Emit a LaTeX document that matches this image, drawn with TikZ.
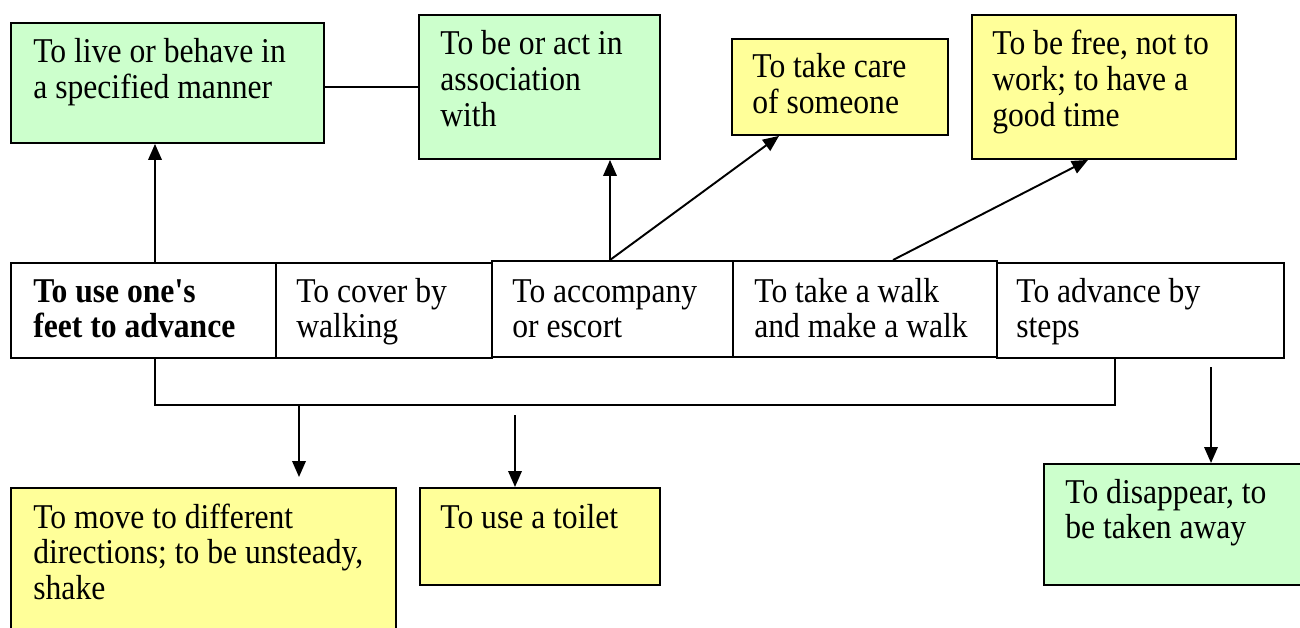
\documentclass[tikz,border=0pt]{standalone}
\usepackage{fontspec}
\setmainfont{Liberation Serif}[Ligatures=TeXOff]
\usetikzlibrary{arrows.meta}
\definecolor{leaf}{HTML}{CCFFCC}
\definecolor{butter}{HTML}{FFFF99}
\def\pxu{0.02cm}
% multi-line text whose reference point is the baseline of the first line
\newcommand\textlines[1]{\scalebox{1}[1.1]{\parbox[t]{9cm}{\raggedright #1}}}

\begin{document}
\begin{tikzpicture}[x=0.02cm, y=-0.02cm,
  every node/.style={font=\fontsize{18}{18.6}\selectfont},
  box/.style={draw, line width=1.1pt, inner sep=0pt, anchor=north west},
  txt/.style={anchor=base west, inner sep=0pt},
  link/.style={line width=1.1pt},
  arr/.style={line width=1.1pt, -{Triangle[length=0.32cm, width=0.27cm]}}]
\clip (0,0) rectangle (1300,628);
\fill[white] (0,0) rectangle (1300,628);

% upper row of senses
\node[box, fill=leaf, minimum width=313*\pxu, minimum height=120*\pxu] (A) at (10,22) {};
\node[box, fill=leaf, minimum width=241*\pxu, minimum height=144*\pxu] (B) at (418,14) {};
\node[box, fill=butter, minimum width=216*\pxu, minimum height=96*\pxu] (C) at (731,38) {};
\node[box, fill=butter, minimum width=264*\pxu, minimum height=144*\pxu] (D) at (971,14) {};

% central row
\node[box, fill=white, minimum width=265*\pxu, minimum height=95*\pxu] (m1) at (10,262) {};
\node[box, fill=white, minimum width=216*\pxu, minimum height=95*\pxu] (m2) at (275,262) {};
\node[box, fill=white, minimum width=241*\pxu, minimum height=96*\pxu] (m3) at (491,260) {};
\node[box, fill=white, minimum width=264*\pxu, minimum height=96*\pxu] (m4) at (732,260) {};
\node[box, fill=white, minimum width=287*\pxu, minimum height=95*\pxu] (m5) at (996,262) {};

% lower row
\node[box, fill=butter, minimum width=385*\pxu, minimum height=160*\pxu] (E) at (10,487) {};
\node[box, fill=butter, minimum width=240*\pxu, minimum height=97*\pxu] (F) at (419,487) {};
\node[box, fill=leaf, minimum width=270*\pxu, minimum height=121*\pxu] (G) at (1043,463) {};

% texts
\node[txt] (At) at ([shift={(23,41)}]A.north west) {\textlines{To live or behave in\\a specified manner}};
\node[txt] (Bt) at ([shift={(22,41)}]B.north west) {\textlines{To be or act in\\association\\with}};
\node[txt] (Ct) at ([shift={(21,40)}]C.north west) {\textlines{To take care\\of someone}};
\node[txt] (Dt) at ([shift={(21,41)}]D.north west) {\textlines{To be free, not to\\work; to have a\\good time}};
\node[txt] (m1t) at ([shift={(23,40)}]m1.north west) {\textlines{\bfseries To use one's\\feet to advance}};
\node[txt] (m2t) at ([shift={(21,40)}]m2.north west) {\textlines{To cover by\\walking}};
\node[txt] (m3t) at ([shift={(21,42)}]m3.north west) {\textlines{To accompany\\or escort}};
\node[txt] (m4t) at ([shift={(22,42)}]m4.north west) {\textlines{To take a walk\\and make a walk}};
\node[txt] (m5t) at ([shift={(20,40)}]m5.north west) {\textlines{To advance by\\steps}};
\node[txt] (Et) at ([shift={(23,41)}]E.north west) {\textlines{To move to different\\directions; to be unsteady,\\shake}};
\node[txt] (Ft) at ([shift={(21,41)}]F.north west) {\textlines{To use a toilet}};
\node[txt] (Gt) at ([shift={(22,40)}]G.north west) {\textlines{To disappear, to\\be taken away}};

% connector positions
\coordinate (kLive) at (155,0);
\coordinate (kAssoc) at (610,0);
\coordinate (kCare) at (779,0);
\coordinate (kWalk) at (893,0);
\coordinate (kFree) at (1088,0);
\coordinate (kSteps) at (1115,0);
\coordinate (kShake) at (299,0);
\coordinate (bar) at (0,405);
\coordinate (toiletTop) at (515,415);
\coordinate (goneTop) at (1211,367);

% connectors
\draw[arr] (m1.north -| kLive) -- (A.south -| kLive);
\draw[link] (A.east |- B.west) -- (B.west);
\draw[arr] (m3.north -| kAssoc) -- (B.south -| kAssoc);
\draw[arr] (m3.north -| kAssoc) -- (C.south -| kCare);
\draw[arr] (m4.north -| kWalk) -- (D.south -| kFree);
\draw[link] (m1.south -| kLive) |- (bar -| kSteps) -- (m5.south -| kSteps);
\draw[arr, shorten >=0.2cm] (bar -| kShake) -- (E.north -| kShake);
\draw[arr] (toiletTop) -- (F.north -| toiletTop);
\draw[arr] (goneTop) -- (G.north -| goneTop);
\end{tikzpicture}
\end{document}
